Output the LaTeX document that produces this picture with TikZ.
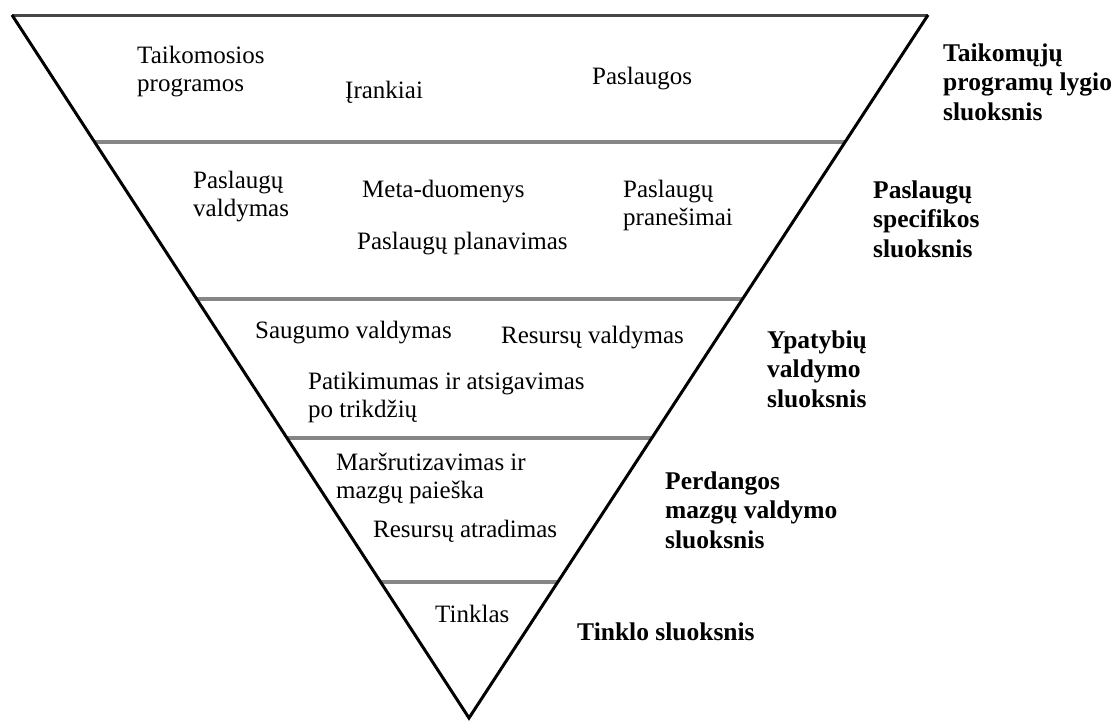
\documentclass[tikz,border=0pt]{standalone}
\usepackage{fontspec}
\setmainfont{Liberation Serif}
\usetikzlibrary{calc}
\begin{document}
\begin{tikzpicture}[x=1pt,y=-1pt,
  item/.style={anchor=base west,inner sep=0pt,align=left,
    font=\fontsize{25}{28}\selectfont},
  layername/.style={item,font=\fontsize{25.5}{29.5}\selectfont\bfseries},
  divider/.style={draw=gray!95,line width=4pt},
  rim/.style={draw=black,line width=3pt,line join=miter},
  topedge/.style={draw=black!72,line width=3pt}]
\useasboundingbox (0,0) rectangle (1118,720);

% corners of the inverted triangle
\coordinate (tl) at (12,15);
\coordinate (tr) at (928,15);
\coordinate (apex) at (469,718);

% layer dividers
\foreach \t/\n in {0.1807/a,0.4040/b,0.6017/c,0.8065/d}{
  \coordinate (l\n) at ($(tl)!\t!(apex)$);
  \coordinate (r\n) at ($(tr)!\t!(apex)$);
  \draw[divider] (l\n) -- (r\n);
}

% outline
\draw[topedge] (tl) -- (tr);
\draw[rim] (tl) -- (apex) -- (tr);

% (multi-line nodes are placed by the baseline of their last line)

% application layer
\node[item] (apps) at (137,91) {Taikomosios\\programos};
\node[item] (tools) at (345,98) {Įrankiai};
\node[item] (serv) at (592,84) {Paslaugos};
\node[layername] (l1) at (943,120) {Taikomųjų\\programų lygio\\sluoksnis};

% service specific layer
\node[item] (smgmt) at (193,216) {Paslaugų\\valdymas};
\node[item] (meta) at (362,197) {Meta-duomenys};
\node[item] (splan) at (357,249) {Paslaugų planavimas};
\node[item] (snotif) at (623,225) {Paslaugų\\pranešimai};
\node[layername] (l2) at (873,257) {Paslaugų\\specifikos\\sluoksnis};

% feature management layer
\node[item] (secm) at (255,338) {Saugumo valdymas};
\node[item] (resm) at (501,343) {Resursų valdymas};
\node[item] (rel) at (308,417) {Patikimumas ir atsigavimas\\po trikdžių};
\node[layername] (l3) at (767,407) {Ypatybių\\valdymo\\sluoksnis};

% overlay node management layer
\node[item] (route) at (336,498) {Maršrutizavimas ir\\mazgų paieška};
\node[item] (resd) at (373,537) {Resursų atradimas};
\node[layername] (l4) at (665,548) {Perdangos\\mazgų valdymo\\sluoksnis};

% network layer
\node[item] (net) at (435,622) {Tinklas};
\node[layername] (l5) at (577,640) {Tinklo sluoksnis};
\end{tikzpicture}
\end{document}
